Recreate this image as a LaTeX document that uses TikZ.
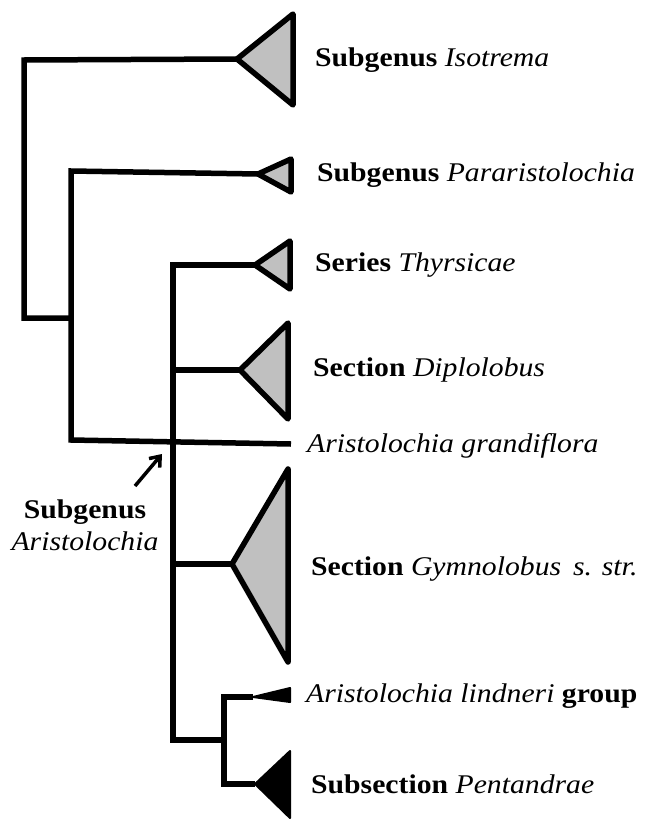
\documentclass[tikz,border=0pt]{standalone}
\usepackage{fontspec}
\setmainfont{Liberation Serif}[FakeStretch=1.1]
\usepackage{xcolor}
\usetikzlibrary{calc,positioning,arrows.meta}
\definecolor{cladegray}{RGB}{192,192,192}

\begin{document}
\begin{tikzpicture}[
	%	style def
    x=1pt, y=-1pt,
    important line/.style={line width=5.5pt, line join=miter},
    clade/.style={line width=5.5pt, line join=round, fill=cladegray},
    black clade/.style={line width=2pt, line join=round, fill=black},
    every node/.style={color=black, inner sep=0pt, font=\fontsize{27}{32}\selectfont},
    taxon/.style={anchor=base west}
    ]
    \useasboundingbox (0,0) rectangle (649,822);

	% backbone of the tree
	\draw[important line] (237,59) coordinate (iso) -- (24,60) coordinate (a1) -- (24,318) coordinate (a2) -- (71,318) coordinate (a3);
	\draw[important line] (258,174) coordinate (para) -- (71,171) coordinate (b1) -- (71,440) coordinate (b2) -- (291,444) coordinate (gran);
	\draw[important line] (255,265) coordinate (thyr) -- (173,265) coordinate (c1) -- (173,740) coordinate (c2) -- (224,740) coordinate (d0);
	\draw[important line] (173,370) coordinate (c3) -- (240,370) coordinate (dipl);
	\draw[important line] (173,564) coordinate (c4) -- (232,564) coordinate (gymn);
	\draw[important line] (253,697) coordinate (lind) -- (224,697) coordinate (d1) -- (224,784) coordinate (d2) -- (255,784) coordinate (pent);

	% collapsed clades
	\filldraw[clade] (iso) -- (293,14) -- (293,105) -- cycle;
	\filldraw[clade] (para) -- (291,159) -- (291,192) -- cycle;
	\filldraw[clade] (thyr) -- (290,241) -- (290,289) -- cycle;
	\filldraw[clade] (dipl) -- (288,323) -- (288,419) -- cycle;
	\filldraw[clade] (gymn) -- (288,469) -- (288,662) -- cycle;
	\filldraw[black clade] (lind) -- (290,688) -- (290,702) -- cycle;
	\filldraw[black clade] (pent) -- (290,751) -- (290,818) -- cycle;

	% labels
	\node[taxon] (lIso) at (315,66) {\textbf{Subgenus} \textit{Isotrema}};
	\node[taxon] (lPara) at (317,181) {\textbf{Subgenus} \textit{Pararistolochia}};
	\node[taxon] (lThyr) at (315,271) {\textbf{Series} \textit{Thyrsicae}};
	\node[taxon] (lDipl) at (313,376) {\textbf{Section} \textit{Diplolobus}};
	\node[taxon] (lGran) at (307,452) {\textit{Aristolochia grandiflora}};
	\node[taxon] (lGymn) at (311,575) {\textbf{Section} \textit{Gymnolobus\, s. str.}};
	\node[taxon] (lLind) at (306,702) {\textit{Aristolochia lindneri} \textbf{group}};
	\node[taxon] (lPent) at (311,793) {\textbf{Subsection} \textit{Pentandrae}};

	%subgenus Aristolochia marker
	\node[anchor=base, align=center] (lAri) at (85,550) {\textbf{Subgenus}\\\textit{Aristolochia}};
	\coordinate (arrS) at (135,486);
	\coordinate (arrE) at (162,454);
	\draw[line width=3.5pt, -{Straight Barb[length=9pt, width=14pt]}] (arrS) -- (arrE);
\end{tikzpicture}
\end{document}
